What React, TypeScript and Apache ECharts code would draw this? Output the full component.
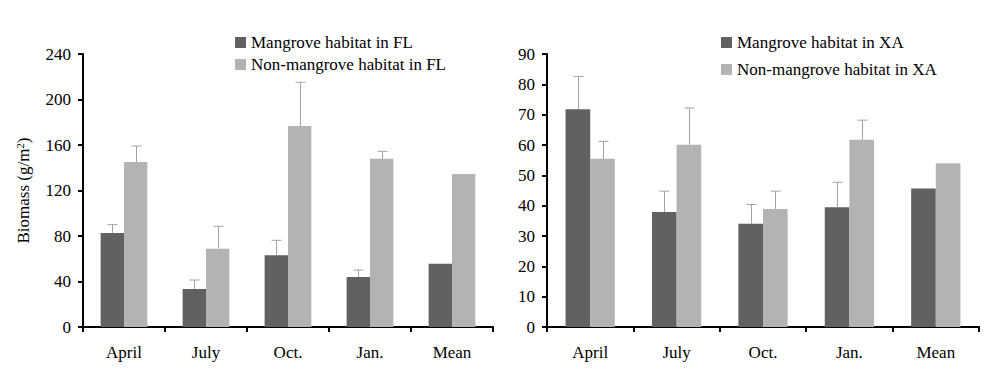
import React, { useEffect, useRef } from "react";
import * as echarts from "echarts";

const categories = ["April", "July", "Oct.", "Jan.", "Mean"];

const flMangrove = [82.6, 33.4, 63.0, 44.0, 55.7];
const flMangroveErrTop = [90.0, 41.3, 76.2, 50.1, null];
const flNonMangrove = [145.1, 68.9, 176.7, 148.0, 134.5];
const flNonMangroveErrTop = [159.1, 88.5, 215.1, 154.4, null];

const xaMangrove = [71.8, 37.9, 34.0, 39.5, 45.7];
const xaMangroveErrTop = [82.6, 44.8, 40.4, 47.7, null];
const xaNonMangrove = [55.5, 60.1, 38.9, 61.7, 54.0];
const xaNonMangroveErrTop = [61.2, 72.2, 44.8, 68.2, null];

const leftTicks = { min: 0, max: 240, interval: 40 };
const rightTicks = { min: 0, max: 90, interval: 10 };

const DARK = "#616161";
const LIGHT = "#b3b3b3";
const ERR = "#a3a3a3";
const FONT = "'Liberation Serif', 'Times New Roman', serif";
const FS = 17;
const BAR_FRAC = 0.285;

function errData(vals: number[], tops: (number | null)[]) {
  const out: any[] = [];
  vals.forEach((v, i) => {
    if (tops[i] != null) out.push([i, v, tops[i]]);
  });
  return out;
}

function errSeries(idx: number, vals: number[], tops: (number | null)[], side: number) {
  return {
    type: "custom",
    xAxisIndex: idx,
    yAxisIndex: idx,
    z: 5,
    silent: true,
    encode: { x: 0, y: [1, 2] },
    data: errData(vals, tops),
    renderItem: (params: any, api: any) => {
      const x = api.value(0);
      const v = api.value(1);
      const t = api.value(2);
      const bw = api.size([1, 0])[0];
      const off = side * bw * BAR_FRAC * 0.5;
      const p0 = api.coord([x, v]);
      const p1 = api.coord([x, t]);
      const cx = Math.round(p0[0] + off) + 0.5;
      return {
        type: "group",
        children: [
          {
            type: "line",
            shape: { x1: cx, y1: p0[1], x2: cx, y2: p1[1] },
            style: { stroke: ERR, lineWidth: 1 },
          },
          {
            type: "line",
            shape: { x1: cx - 5, y1: p1[1], x2: cx + 5, y2: p1[1] },
            style: { stroke: ERR, lineWidth: 1 },
          },
        ],
      };
    },
  };
}

export default function App() {
  const ref = useRef<HTMLDivElement>(null);
  useEffect(() => {
    if (!ref.current) return;
    const chart = echarts.init(ref.current, null, { renderer: "svg" });
    const axisLabel = { color: "#000", fontSize: FS, fontFamily: FONT };
    const makeX = (gi: number) => ({
      type: "category",
      gridIndex: gi,
      data: categories,
      axisLine: { show: true, lineStyle: { color: "#000", width: 2 } },
      axisTick: { show: true, length: 5, inside: false, lineStyle: { color: "#000", width: 2 } },
      axisLabel: { ...axisLabel, margin: 17, interval: 0 },
      splitLine: { show: false },
    });
    const makeY = (gi: number, t: any, name?: string) => ({
      type: "value",
      gridIndex: gi,
      min: t.min,
      max: t.max,
      interval: t.interval,
      name: name,
      nameLocation: "middle",
      nameRotate: 90,
      nameGap: 50,
      nameTextStyle: {
        color: "#000",
        fontSize: FS,
        fontFamily: FONT,
        rich: {
          sup: { fontSize: 11, fontFamily: FONT, color: "#000", verticalAlign: "top", padding: [0, 0, 8, 0] },
        },
      },
      axisLine: { show: true, lineStyle: { color: "#000", width: 2 } },
      axisTick: { show: true, length: 5, inside: false, lineStyle: { color: "#000", width: 2 } },
      axisLabel: { ...axisLabel, margin: 12 },
      splitLine: { show: false },
    });
    const legendText = { color: "#000", fontSize: FS, fontFamily: FONT };
    chart.setOption({
      animation: false,
      backgroundColor: "#fff",
      grid: [
        { left: 83, right: 507, top: 54, bottom: 62 },
        { left: 547, right: 21, top: 54, bottom: 62 },
      ],
      legend: [
        {
          data: ["Mangrove habitat in FL", "Non-mangrove habitat in FL"],
          orient: "vertical",
          left: 230,
          top: 29,
          itemWidth: 11,
          itemHeight: 11,
          itemGap: 5,
          textStyle: legendText,
          icon: "rect",
        },
        {
          data: ["Mangrove habitat in XA", "Non-mangrove habitat in XA"],
          orient: "vertical",
          left: 716,
          top: 29,
          itemWidth: 11,
          itemHeight: 11,
          itemGap: 10,
          textStyle: legendText,
          icon: "rect",
        },
      ],
      xAxis: [makeX(0), makeX(1)],
      yAxis: [makeY(0, leftTicks, "Biomass (g/m{sup|2})"), makeY(1, rightTicks)],
      series: [
        {
          name: "Mangrove habitat in FL",
          type: "bar",
          xAxisIndex: 0,
          yAxisIndex: 0,
          data: flMangrove,
          barWidth: BAR_FRAC * 100 + "%",
          barGap: "0%",
          itemStyle: { color: DARK },
        },
        {
          name: "Non-mangrove habitat in FL",
          type: "bar",
          xAxisIndex: 0,
          yAxisIndex: 0,
          data: flNonMangrove,
          barWidth: BAR_FRAC * 100 + "%",
          barGap: "0%",
          itemStyle: { color: LIGHT },
        },
        {
          name: "Mangrove habitat in XA",
          type: "bar",
          xAxisIndex: 1,
          yAxisIndex: 1,
          data: xaMangrove,
          barWidth: BAR_FRAC * 100 + "%",
          barGap: "0%",
          itemStyle: { color: DARK },
        },
        {
          name: "Non-mangrove habitat in XA",
          type: "bar",
          xAxisIndex: 1,
          yAxisIndex: 1,
          data: xaNonMangrove,
          barWidth: BAR_FRAC * 100 + "%",
          barGap: "0%",
          itemStyle: { color: LIGHT },
        },
        errSeries(0, flMangrove, flMangroveErrTop, -1),
        errSeries(0, flNonMangrove, flNonMangroveErrTop, 1),
        errSeries(1, xaMangrove, xaMangroveErrTop, -1),
        errSeries(1, xaNonMangrove, xaNonMangroveErrTop, 1),
      ],
    });
    return () => chart.dispose();
  }, []);
  return (
    <div
      ref={ref}
      style={{ position: "fixed", left: 0, top: 0, width: 1000, height: 389 }}
    />
  );
}
